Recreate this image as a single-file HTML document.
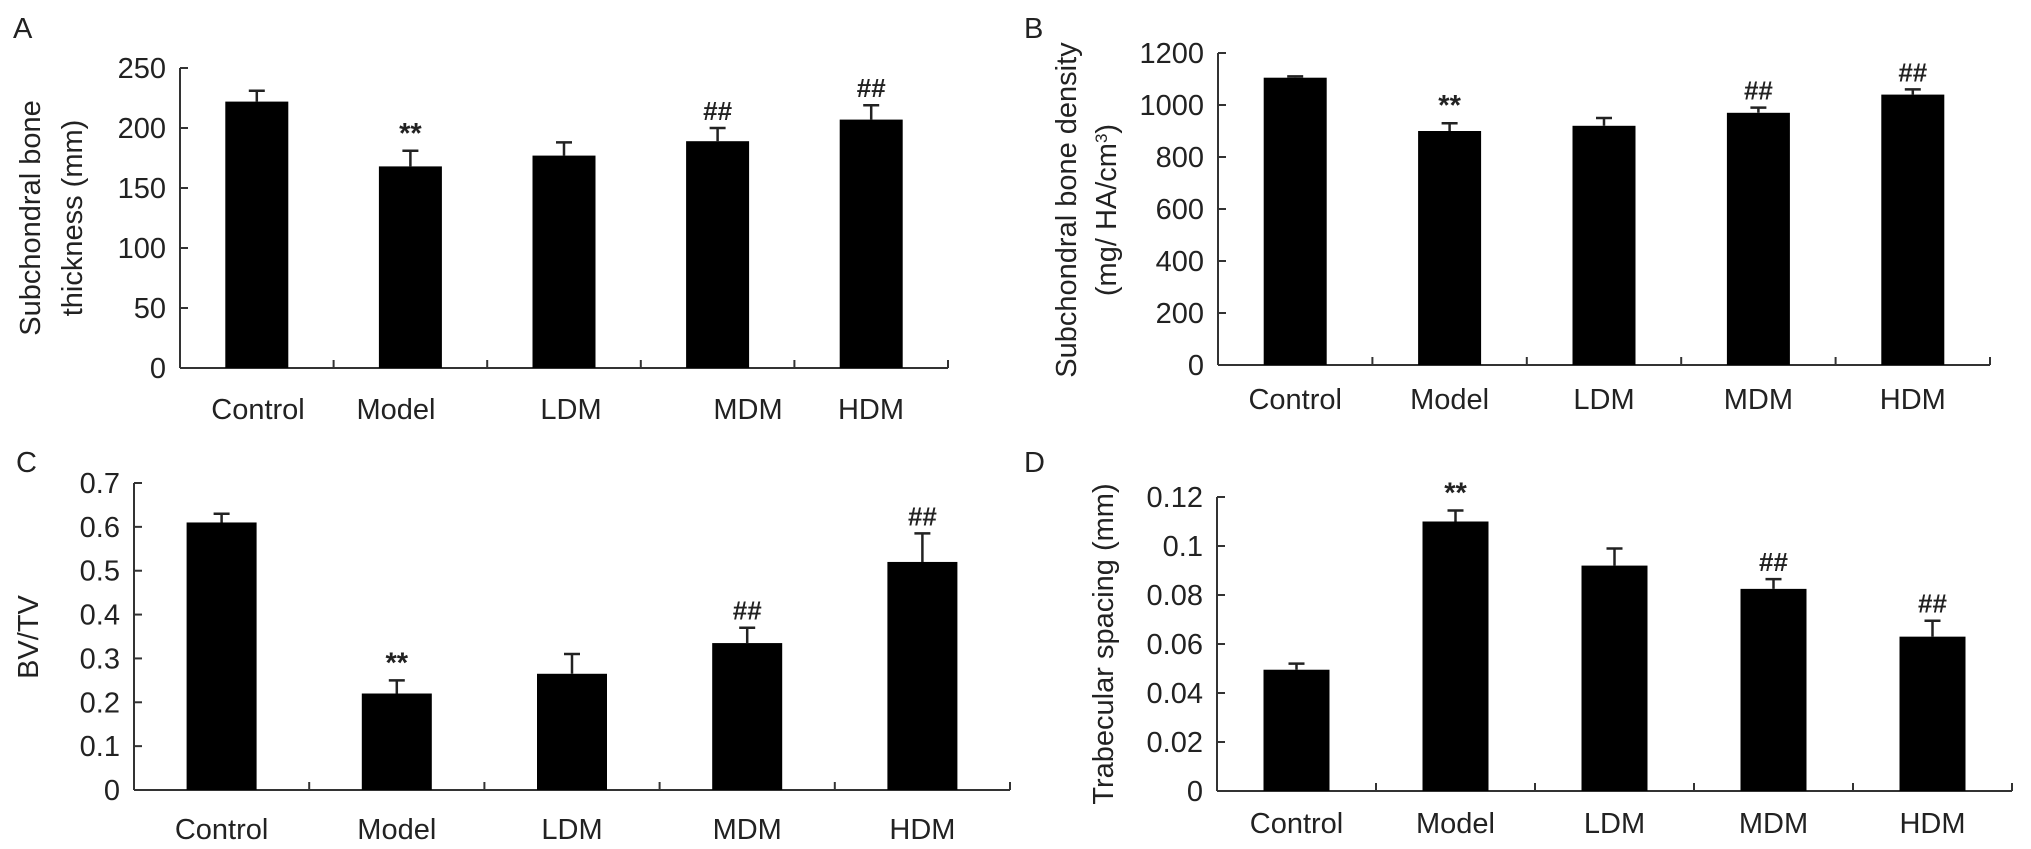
<!DOCTYPE html>
<html><head><meta charset="utf-8"><style>
html,body{margin:0;padding:0;background:#fff;}
svg{display:block;font-family:"Liberation Sans",Arial,sans-serif;}
</style></head><body>
<svg id="fig" width="2031" height="849" viewBox="0 0 2031 849" xmlns="http://www.w3.org/2000/svg"></svg>
<script>
const categories = ["Control","Model","LDM","MDM","HDM"];
const aValues = [222,168,177,189,207];
const aErrors = [231,181,188,200,219];
const aMarks = ["","**","","##","##"];
const aTicks = [0,50,100,150,200,250];
const bValues = [1105,900,920,970,1040];
const bErrors = [1110,930,950,990,1060];
const bMarks = ["","**","","##","##"];
const bTicks = [0,200,400,600,800,1000,1200];
const cValues = [0.61,0.22,0.265,0.335,0.52];
const cErrors = [0.63,0.25,0.31,0.37,0.585];
const cMarks = ["","**","","##","##"];
const cTicks = [0,0.1,0.2,0.3,0.4,0.5,0.6,0.7];
const cTickLabels = ["0","0.1","0.2","0.3","0.4","0.5","0.6","0.7"];
const dValues = [0.0495,0.11,0.092,0.0825,0.063];
const dErrors = [0.052,0.1145,0.099,0.0865,0.0695];
const dMarks = ["","**","","##","##"];
const dTicks = [0,0.02,0.04,0.06,0.08,0.1,0.12];
const dTickLabels = ["0","0.02","0.04","0.06","0.08","0.1","0.12"];

const NS="http://www.w3.org/2000/svg";
const svg=document.getElementById('fig');
function mk(tag,attrs,parent){const e=document.createElementNS(NS,tag);for(const k in attrs)e.setAttribute(k,attrs[k]);(parent||svg).appendChild(e);return e;}

function panel(cfg){
  const g=mk('g',{});
  
  
  const x0=cfg.x0, cw=cfg.cw, y0=cfg.y0, yTop=cfg.yTop, max=cfg.max;
  const ys=v=>y0-(v/max)*(y0-yTop);
  const xc=i=>x0+cw*(i+0.5);
  const ya=mk('line',{x1:x0,y1:y0,x2:x0,y2:yTop,stroke:'#333','stroke-width':2},g);
  
  
  const xa=mk('line',{x1:x0,y1:y0,x2:x0+cw*5,y2:y0,stroke:'#333','stroke-width':2},g);
  
  
  cfg.ticks.forEach((t,k)=>{
    const y=ys(t);
    mk('line',{x1:x0,y1:y,x2:x0+8,y2:y,stroke:'#333','stroke-width':2},g);
    const tl=mk('text',{x:x0-14,y:y+10,'text-anchor':'end','font-size':29,fill:'#222'},g);
    tl.textContent=cfg.tickLabels?cfg.tickLabels[k]:String(t);
    
    
  });
  for(let i=1;i<=5;i++){mk('line',{x1:x0+cw*i,y1:y0,x2:x0+cw*i,y2:y0-8,stroke:'#333','stroke-width':2},g);}
  categories.forEach((c,i)=>{
    const cx=xc(i), w=cfg.bw;
    const r=mk('rect',{x:cx-w/2,y:ys(cfg.values[i]),width:w,height:y0-ys(cfg.values[i]),fill:'#000'},g);
    
    
    const ey=ys(cfg.errors[i]);
    const e=mk('path',{d:`M${cx} ${ys(cfg.values[i])}V${ey}M${cx-8} ${ey}H${cx+8}`,stroke:'#222','stroke-width':2.5,fill:'none'},g);
    
    
    if(cfg.marks[i]){
      const m=mk('text',{x:cx,y:ey-8,'text-anchor':'middle','font-size':cfg.marks[i]=="**"?29:26,'font-weight':'bold',fill:'#222'},g);
      m.textContent=cfg.marks[i];
      
      
    }
    const lx=cfg.labelX?cfg.labelX[i]:cx;
    const l=mk('text',{x:lx,y:cfg.labelY,'text-anchor':'middle','font-size':29,fill:'#222'},g);
    l.textContent=c;
    
    
  });
  const L=mk('text',{x:cfg.letter[0],y:cfg.letter[1],'font-size':29,fill:'#222'},g);
  L.textContent=cfg.id;
  
  
  cfg.ylabel.forEach(([txt,x,y])=>{
    const t=mk('text',{x:x,y:y,'text-anchor':'middle','font-size':29,fill:'#222',transform:`rotate(-90 ${x} ${y})`},g);
    t.innerHTML=txt;
    
    
  });
}
panel({id:'A',x0:180,cw:153.6,y0:368,yTop:68,max:250,bw:63,values:aValues,errors:aErrors,marks:aMarks,ticks:aTicks,
  labelY:419,labelX:[258,396,571,748,871],letter:[13,38],
  ylabel:[["Subchondral bone",40,218],["thickness (mm)",82,218]]});
panel({id:'B',x0:1218,cw:154.4,y0:365,yTop:53,max:1200,bw:63,values:bValues,errors:bErrors,marks:bMarks,ticks:bTicks,
  labelY:409,letter:[1024,38],
  ylabel:[["Subchondral bone density",1076,210],["(mg/ HA/cm<tspan baseline-shift='super' font-size='17'>3</tspan>)",1116,210]]});
panel({id:'C',x0:134,cw:175.2,y0:790,yTop:483,max:0.7,bw:70,values:cValues,errors:cErrors,marks:cMarks,ticks:cTicks,tickLabels:cTickLabels,
  labelY:839,letter:[16,472],
  ylabel:[["BV/TV",38,637]]});
panel({id:'D',x0:1217,cw:159,y0:791,yTop:497,max:0.12,bw:66,values:dValues,errors:dErrors,marks:dMarks,ticks:dTicks,tickLabels:dTickLabels,
  labelY:833,letter:[1024,472],
  ylabel:[["Trabecular spacing (mm)",1113,644]]});
</script>
</body></html>
